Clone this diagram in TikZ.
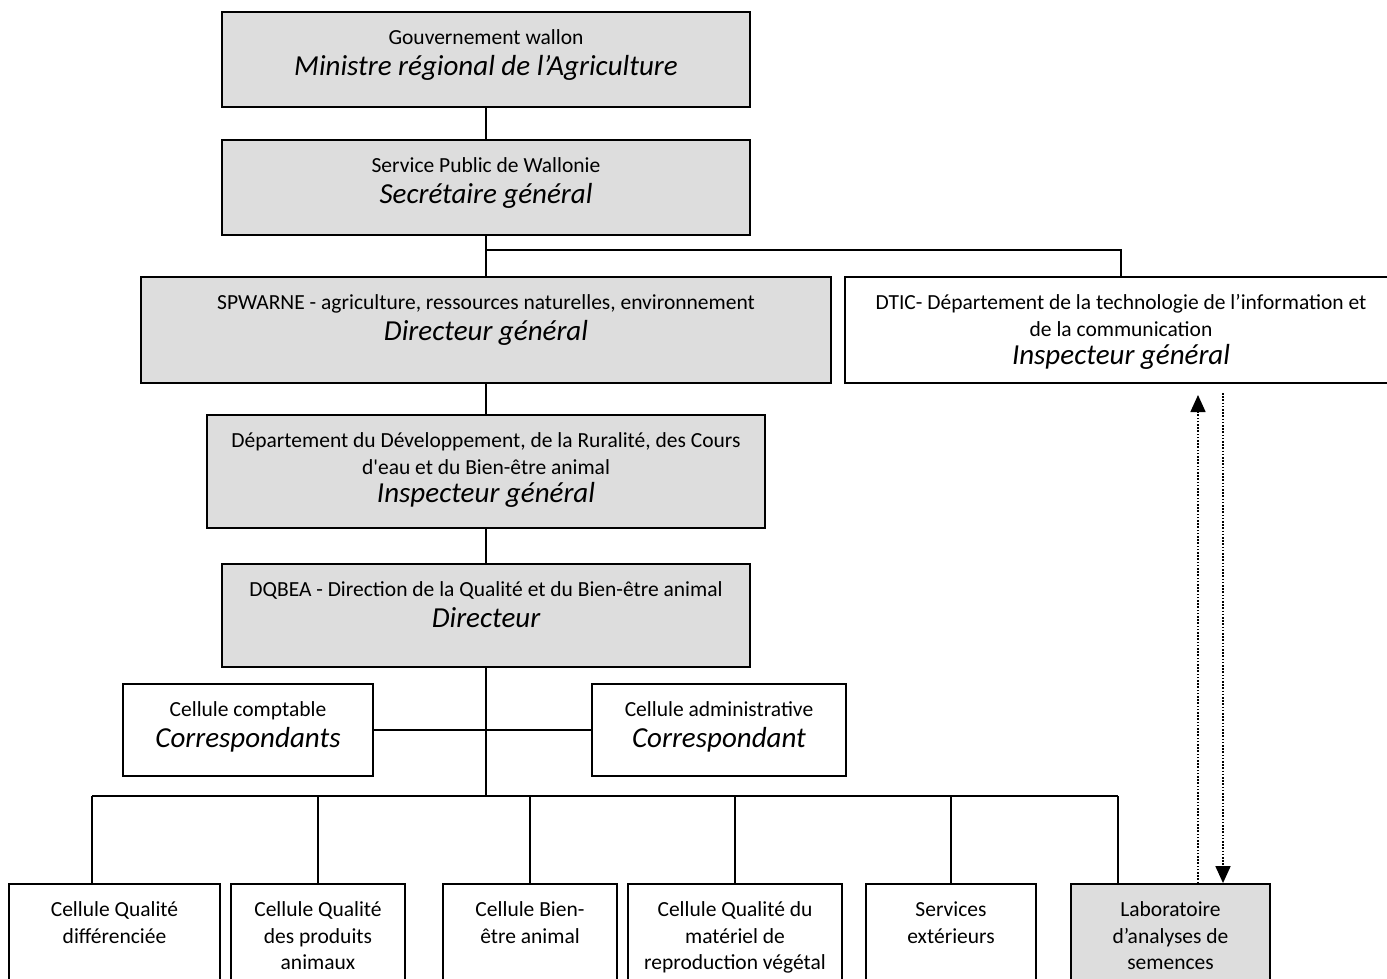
\documentclass[tikz,border=0pt]{standalone}
\usepackage{fontspec}
\setmainfont{Carlito}
\usetikzlibrary{arrows.meta}
\definecolor{boxgray}{RGB}{221,221,221}
\newcommand{\boxlines}[3]{\parbox[c][#2pt][t]{#1pt}{\centering\vspace*{14pt}#3}}
\newcommand{\role}[1]{{\fontsize{29}{31}\selectfont\itshape #1}}
\tikzset{org box/.style={draw,line width=1.8pt,inner sep=0pt,fill=white},
  grey box/.style={org box,fill=boxgray},
  link/.style={line width=1.8pt},
  dot link/.style={line width=1.6pt,dash pattern=on 1.6pt off 1.6pt,-{Triangle[length=17pt,width=15pt]}} }
\begin{document}
\begin{tikzpicture}[x=1pt,y=-1pt,font=\fontsize{21.5}{26.5}\selectfont]
  \useasboundingbox (0,0) rectangle (1387,978);
  \clip (0,0) rectangle (1387,978);

  % hierarchy
  \node[grey box] (gouv) at (486,59.5) {\boxlines{528}{95}{\strut Gouvernement wallon\\[2pt]\role{Ministre régional de l’Agriculture}}};
  \node[grey box] (spw) at (486,187.5) {\boxlines{528}{95}{\strut Service Public de Wallonie\\[2pt]\role{Secrétaire général}}};
  \node[grey box] (arne) at (486,330) {\boxlines{690}{106}{\strut SPWARNE - agriculture, ressources naturelles, environnement\\[2pt]\role{Directeur général}}};
  \node[org box] (dtic) at (1121,330) {\boxlines{552}{106}{\strut DTIC- Département de la technologie de l’information et\\de la communication\\[2pt]\role{Inspecteur général}}};
  \node[grey box] (dept) at (486,471.5) {\boxlines{558}{113}{\strut Département du Développement, de la Ruralité, des Cours\\d\textquotesingle eau et du Bien-être animal\\[2pt]\role{Inspecteur général}}};
  \node[grey box] (dqbea) at (486,615.5) {\boxlines{528}{103}{\strut DQBEA - Direction de la Qualité et du Bien-être animal\\[2pt]\role{Directeur}}};

  % cellules
  \node[org box] (compt) at (248,730) {\boxlines{250}{92}{\strut Cellule comptable\\[2pt]\role{Correspondants}}};
  \node[org box] (admin) at (719,730) {\boxlines{254}{92}{\strut Cellule administrative\\[2pt]\role{Correspondant}}};

  \node[org box] (qdiff) at (114.5,942) {\boxlines{211}{116}{\strut Cellule Qualité\\différenciée}};
  \node[org box] (qanim) at (318,942) {\boxlines{174}{116}{\strut Cellule Qualité\\des produits\\animaux}};
  \node[org box] (bien) at (530,942) {\boxlines{174}{116}{\strut Cellule Bien-\\être animal}};
  \node[org box] (qveg) at (735,942) {\boxlines{214}{116}{\strut Cellule Qualité du\\matériel de\\reproduction végétal}};
  \node[org box] (ext) at (951,942) {\boxlines{170}{116}{\strut Services\\extérieurs}};
  \node[grey box] (labo) at (1170.5,942) {\boxlines{199}{116}{\strut Laboratoire\\d’analyses de\\semences}};

  \coordinate (fork) at (486,250);
  \coordinate (busL) at (92,796);
  \coordinate (busR) at (1118,796);
  \coordinate (upEnd) at (1198,395);
  \coordinate (dnStart) at (1223,393);

  % connectors
  \draw[link] (gouv) -- (spw);
  \draw[link] (spw) -- (arne);
  \draw[link] (fork) -| (dtic);
  \draw[link] (arne) -- (dept);
  \draw[link] (dept) -- (dqbea);
  \draw[link] (dqbea.south) -- (dqbea.south |- busL);
  \draw[link] (compt.east) -- (admin.west);
  \draw[link] (busL) -- (busR);
  \draw[link] (busL) -- (busL |- qdiff.north);
  \draw[link] (qanim.north |- busL) -- (qanim);
  \draw[link] (bien.north |- busL) -- (bien);
  \draw[link] (qveg.north |- busL) -- (qveg);
  \draw[link] (ext.north |- busL) -- (ext);
  \draw[link] (busR) -- (busR |- labo.north);

  \draw[dot link] (labo.north -| upEnd) -- (upEnd);
  \draw[dot link] (dnStart) -- (dnStart |- labo.north);
\end{tikzpicture}
\end{document}
